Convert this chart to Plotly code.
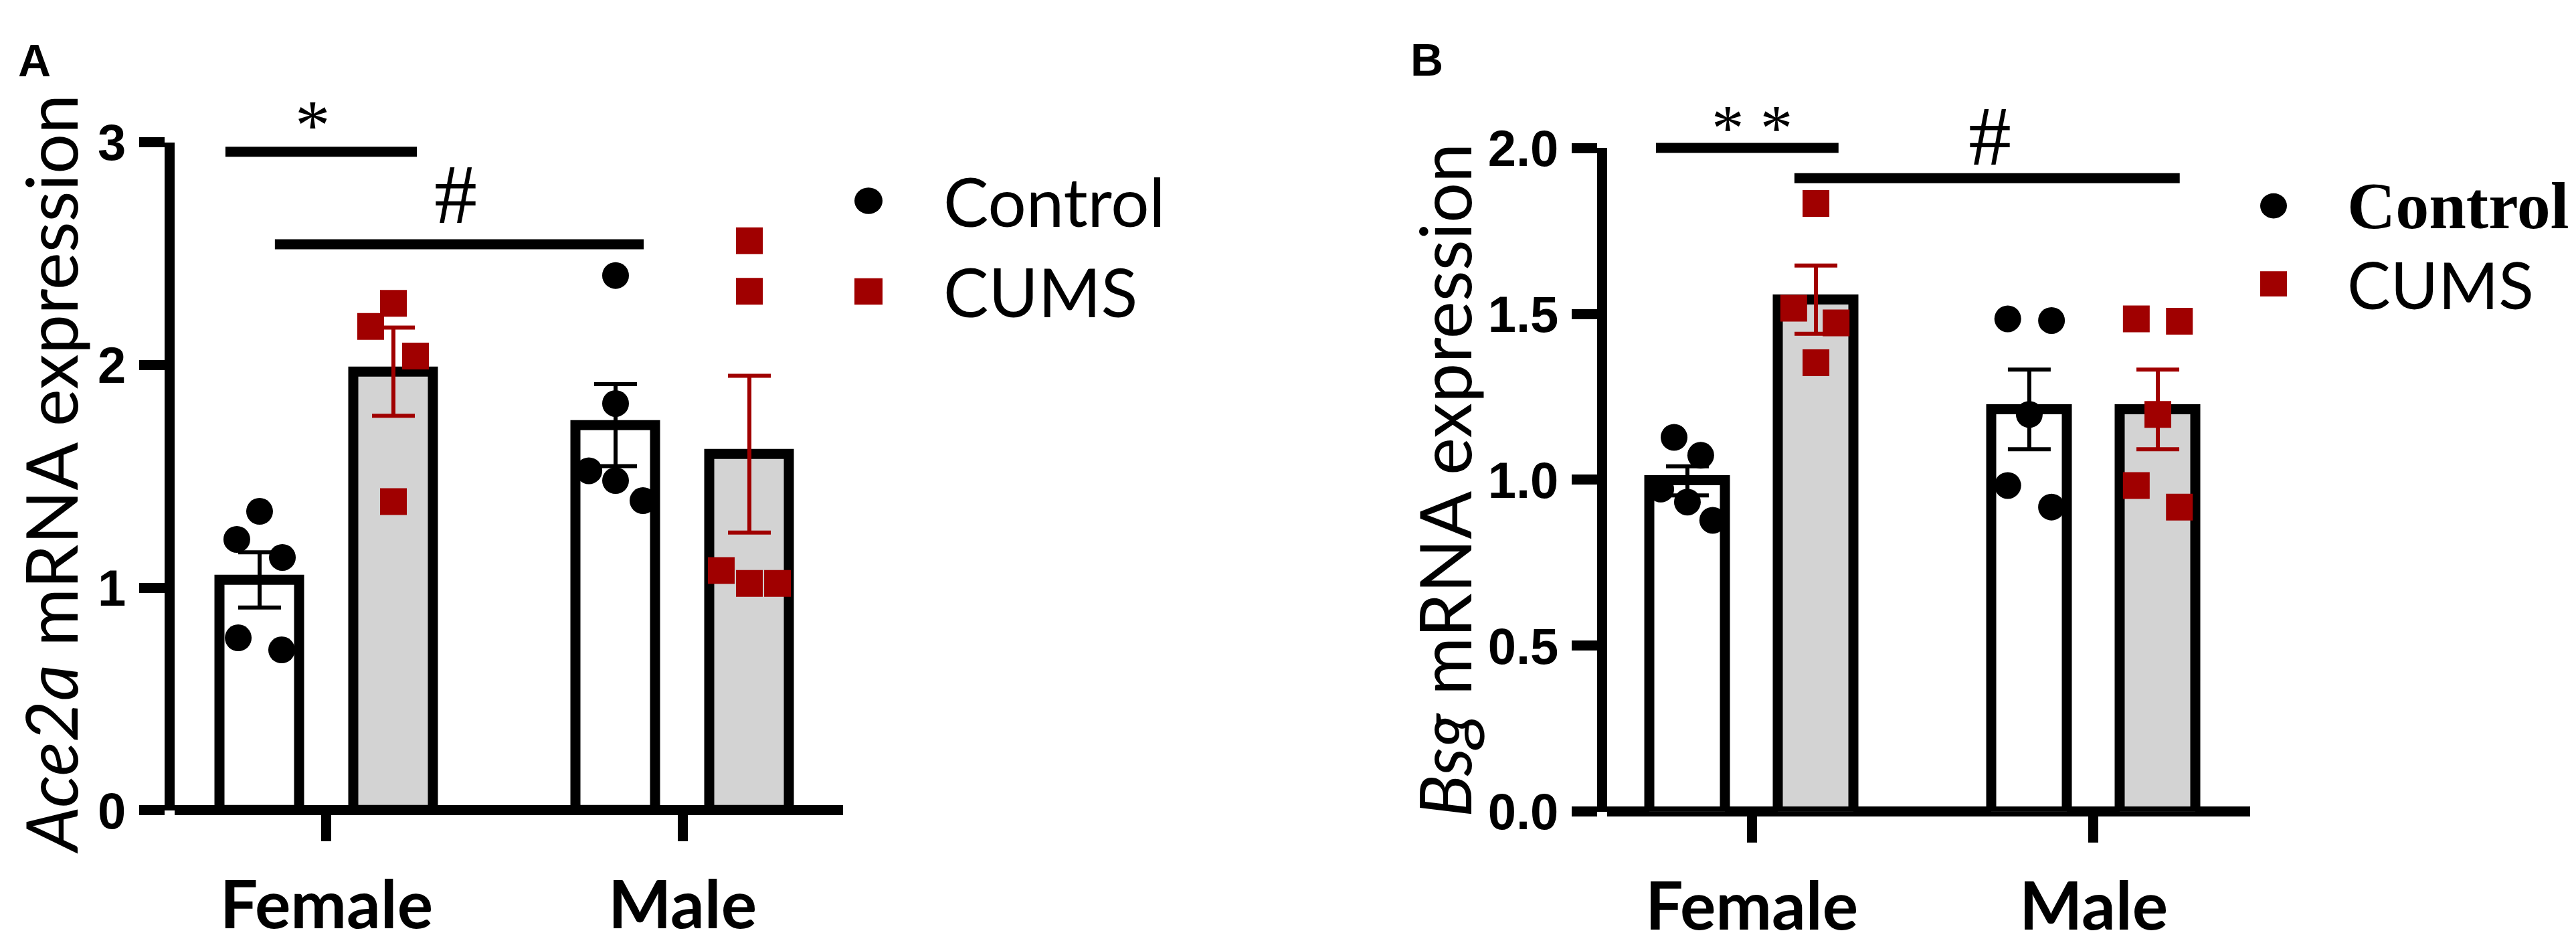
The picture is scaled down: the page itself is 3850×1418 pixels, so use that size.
import plotly.graph_objects as go

W, H = 3850, 1418

groups = ["Female", "Male"]

# panel A - Ace2a
ace2a_ctrl_mean = [1.035, 1.73]
ace2a_ctrl_sem = [0.124, 0.184]
ace2a_cums_mean = [1.97, 1.60]
ace2a_cums_sem = [0.198, 0.352]
ace2a_ctrl_pts = [[1.343, 1.217, 1.136, 0.775, 0.721],
                  [2.402, 1.827, 1.525, 1.481, 1.391]]
ace2a_cums_pts = [[2.277, 2.173, 2.040, 1.387],
                  [2.558, 2.331, 1.077, 1.019, 1.019]]
# horizontal scatter of the dots inside each bar (category units)
ace2a_ctrl_jit = [[0, -0.064, 0.064, -0.060, 0.062],
                  [0, 0, -0.075, 0, 0.077]]
ace2a_cums_jit = [[0, -0.064, 0.062, 0],
                  [0, 0, -0.079, 0, 0.079]]

# panel B - Bsg
bsg_ctrl_mean = [0.997, 1.212]
bsg_ctrl_sem = [0.044, 0.120]
bsg_cums_mean = [1.543, 1.212]
bsg_cums_sem = [0.103, 0.120]
bsg_ctrl_pts = [[1.128, 1.074, 0.972, 0.933, 0.878],
                [1.485, 1.480, 1.197, 0.983, 0.918]]
bsg_cums_pts = [[1.833, 1.517, 1.473, 1.353],
                [1.485, 1.478, 1.197, 0.983, 0.918]]
bsg_ctrl_jit = [[-0.039, 0.039, -0.078, 0, 0.074],
                [-0.063, 0.065, 0, -0.063, 0.065]]
bsg_cums_jit = [[0, -0.065, 0.059, 0],
                [-0.063, 0.063, 0, -0.063, 0.063]]

RED = "#A00000"
GREY = "#D3D3D3"
LATO = "Lato"
ARIAL = "Liberation Sans"
TIMES = "Liberation Serif"
BAR_OFF = 0.188
BAR_W = 0.222
LW = 15


def px(x):
    return x / W


def py(y):
    return 1 - y / H


fig = go.Figure()


def add_panel(xa, ya, ctrl_mean, ctrl_sem, cums_mean, cums_sem,
              ctrl_pts, cums_pts, ctrl_jit, cums_jit):
    pos = list(range(len(groups)))
    # bars with SEM
    for mean, sem, side, fill, ecol in [
            (ctrl_mean, ctrl_sem, -1, "white", "black"),
            (cums_mean, cums_sem, 1, GREY, RED)]:
        fig.add_trace(go.Bar(
            x=[p + side * BAR_OFF for p in pos], y=mean, width=BAR_W,
            marker=dict(color=fill, line=dict(color="black", width=LW)),
            error_y=dict(type="data", array=sem, color=ecol,
                         thickness=6, width=32),
            xaxis=xa, yaxis=ya, showlegend=False))
    # individual animals
    for pts, jit, side, sym, col in [
            (ctrl_pts, ctrl_jit, -1, "circle", "black"),
            (cums_pts, cums_jit, 1, "square", RED)]:
        xs, ys = [], []
        for p, vals, js in zip(pos, pts, jit):
            xs += [p + side * BAR_OFF + j for j in js]
            ys += vals
        fig.add_trace(go.Scatter(
            x=xs, y=ys, mode="markers",
            marker=dict(symbol=sym, size=40, color=col, line=dict(width=0)),
            xaxis=xa, yaxis=ya, showlegend=False, cliponaxis=False))


add_panel("x", "y", ace2a_ctrl_mean, ace2a_ctrl_sem, ace2a_cums_mean,
          ace2a_cums_sem, ace2a_ctrl_pts, ace2a_cums_pts,
          ace2a_ctrl_jit, ace2a_cums_jit)
add_panel("x2", "y2", bsg_ctrl_mean, bsg_ctrl_sem, bsg_cums_mean,
          bsg_cums_sem, bsg_ctrl_pts, bsg_cums_pts,
          bsg_ctrl_jit, bsg_cums_jit)

xcommon = dict(tickvals=[0, 1], ticktext=groups, ticks="outside",
               ticklen=45, tickwidth=LW, tickcolor="black",
               showline=False, showgrid=False, zeroline=False,
               tickfont=dict(family=LATO, size=100, color="black", weight="bold"),
               ticklabelstandoff=10, fixedrange=True)
ycommon = dict(ticks="outside", ticklen=38, tickwidth=LW, tickcolor="black",
               showline=True, linewidth=LW, linecolor="black",
               zeroline=True, zerolinewidth=LW, zerolinecolor="black",
               showgrid=False,
               tickfont=dict(family=ARIAL, size=76, color="black", weight="bold"),
               ticklabelstandoff=4, fixedrange=True)

fig.update_layout(
    width=W, height=H,
    margin=dict(l=0, r=0, t=0, b=0),
    paper_bgcolor="white", plot_bgcolor="white",
    showlegend=False, bargap=0,
    xaxis=dict(domain=[px(252.5), px(1252)], range=[-0.4276, 1.4511],
               anchor="y", **xcommon),
    yaxis=dict(domain=[py(1235), py(173)], range=[0, 3],
               tickvals=[0, 1, 2, 3], anchor="x", **ycommon),
    xaxis2=dict(domain=[px(2393.5), px(3355)], range=[-0.4237, 1.458],
                anchor="y2", **xcommon),
    yaxis2=dict(domain=[py(1237), py(182)], range=[0, 2],
                tickvals=[0, 0.5, 1, 1.5, 2], tickformat=".1f",
                anchor="x2", **ycommon),
)

# significance bars (x in category units, height in page pixels)
sig_lines = [("x", -0.284, 0.254, 188), ("x", -0.145, 0.891, 335),
             ("x2", -0.28, 0.254, 182), ("x2", 0.125, 1.252, 230)]
for xr, x0, x1, yv in sig_lines:
    fig.add_shape(type="line", xref=xr, yref="paper", x0=x0, x1=x1,
                  y0=py(yv), y1=py(yv),
                  line=dict(color="black", width=LW))

ann = []
sig_text = [("x", -0.039, 146, "*", 105), ("x", 0.363, 255, "#", 128),
            ("x2", 0.0, 150, "* *", 97), ("x2", 0.697, 163, "#", 128)]
for xr, xv, yv, t, s in sig_text:
    ann.append(dict(xref=xr, yref="paper", x=xv, y=py(yv), text=t,
                    showarrow=False, xanchor="center", yanchor="middle",
                    font=dict(family=TIMES, size=s, color="black")))

# y titles
ann.append(dict(xref="paper", yref="paper", x=px(67), y=py(701),
                text="<i>Ace2a</i> mRNA expression", textangle=-90,
                showarrow=False, xanchor="center", yanchor="middle",
                font=dict(family=LATO, size=106, color="black")))
ann.append(dict(xref="paper", yref="paper", x=px(2150), y=py(710),
                text="<i>Bsg</i> mRNA expression", textangle=-90,
                showarrow=False, xanchor="center", yanchor="middle",
                font=dict(family=LATO, size=106, color="black")))

# panel letters
for t, x, y in [("A", 17, 43), ("B", 2098, 41)]:
    ann.append(dict(xref="paper", yref="paper", x=px(x), y=py(y), text=t,
                    showarrow=False, xanchor="left", yanchor="middle",
                    font=dict(family=ARIAL, size=68, color="black", weight="bold")))

# legends (drawn by hand, marker sizes are bigger than plotly legend allows)
legends = [
    (1290, 266, 410, 42, 1400, dict(family=LATO, size=101, color="black"),
     dict(family=LATO, size=101, color="black")),
    (3390, 274, 398, 40, 3498, dict(family=TIMES, size=100, color="black", weight="bold"),
     dict(family=LATO, size=97, color="black")),
]
for cx, cy1, cy2, d, tx, f1, f2 in legends:
    r = d / 2
    fig.add_shape(type="circle", xref="paper", yref="paper",
                  x0=px(cx - r), x1=px(cx + r), y0=py(cy1 + r), y1=py(cy1 - r),
                  fillcolor="black", line=dict(width=0))
    fig.add_shape(type="rect", xref="paper", yref="paper",
                  x0=px(cx - r), x1=px(cx + r), y0=py(cy2 + r), y1=py(cy2 - r),
                  fillcolor=RED, line=dict(width=0))
    ann.append(dict(xref="paper", yref="paper", x=px(tx), y=py(cy1), text="Control",
                    showarrow=False, xanchor="left", yanchor="middle", font=f1))
    ann.append(dict(xref="paper", yref="paper", x=px(tx), y=py(cy2), text="CUMS",
                    showarrow=False, xanchor="left", yanchor="middle", font=f2))

fig.update_layout(annotations=ann)

fig.write_html("out.html")
